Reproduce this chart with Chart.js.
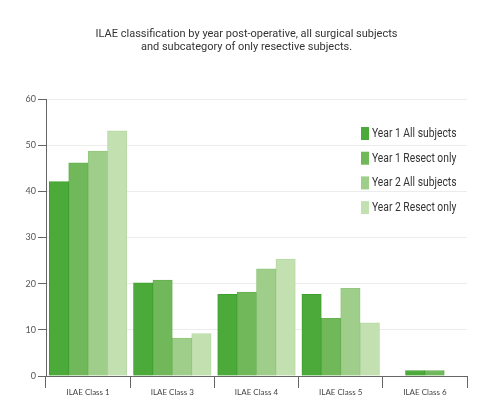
<!DOCTYPE html>
<html>
<head>
<meta charset="utf-8">
<script src="https://cdn.jsdelivr.net/npm/chart.js@4"></script>
<style>
    html, body { margin: 0; padding: 0; background: #fff; }
    #caja { width: 500px; height: 417px; }
</style>
</head>
<body>
<div id="caja"><canvas id="grafica"></canvas></div>
<script>
//--------Datos
const categorias = ["ILAE Class 1", "ILAE Class 3", "ILAE Class 4", "ILAE Class 5", "ILAE Class 6"]
const year1Todos = [42.1, 20.2, 17.7, 17.7, 1.2]
const year1Reseccion = [46.2, 20.8, 18.2, 12.5, 1.2]
const year2Todos = [48.7, 8.2, 23.2, 19.0, null]
const year2Reseccion = [53.1, 9.2, 25.3, 11.5, null]
const nombresSeries = ["Year 1 All subjects", "Year 1 Resect only", "Year 2 All subjects", "Year 2 Resect only"]
const ticksY = [0, 10, 20, 30, 40, 50, 60]
const titulo = ["ILAE classification by year post-operative, all surgical subjects", "and subcategory of only resective subjects."]

const colores = ["#4caa3b", "#71b85b", "#9ece89", "#c2e0b0"]
const bordes = ["#40a02f", "#66b050", "#93c77d", "#b7d9a4"]

//--------Titulo propio (centrado en la pagina, no en el area)
const tituloArriba = {
    id: "tituloArriba",
    afterDraw(chart) {
        const ctx = chart.ctx
        ctx.save()
        ctx.font = "11px Roboto, sans-serif"
        ctx.fillStyle = "#333"
        ctx.textAlign = "center"
        ctx.textBaseline = "middle"
        titulo.forEach((linea, i) => ctx.fillText(linea, 246.5, 34.5 + i * 13.2))
        ctx.restore()
    }
}

//--------Leyenda propia (encima del area del grafico)
const leyendaDerecha = {
    id: "leyendaDerecha",
    afterDatasetsDraw(chart) {
        const ctx = chart.ctx
        const area = chart.chartArea
        const x = area.right - 106
        let y = area.top + 28
        ctx.save()
        ctx.font = "12px Roboto, sans-serif"
        ctx.textBaseline = "middle"
        chart.data.datasets.forEach((serie) => {
            ctx.fillStyle = serie.backgroundColor
            ctx.fillRect(x, y, 8, 13)
            ctx.fillStyle = "#333"
            //texto algo estrecho, como en el original
            ctx.save()
            ctx.translate(x + 11, y + 7)
            ctx.scale(0.86, 1)
            ctx.fillText(serie.label, 0, 0)
            ctx.restore()
            y += 24.7
        })
        ctx.restore()
    }
}

const series = [year1Todos, year1Reseccion, year2Todos, year2Reseccion]

window.onload = () => {
    const canvaGrafica = document.getElementById("grafica")

    new Chart(canvaGrafica, {
        type: "bar",
        data: {
            labels: categorias,
            datasets: series.map((valores, i) => ({
                label: nombresSeries[i],
                data: valores,
                backgroundColor: colores[i],
                borderColor: bordes[i],
                borderWidth: 1,
                barThickness: 19.4,
                skipNull: true
            }))
        },
        options: {
            responsive: true,
            maintainAspectRatio: false,
            animation: false,
            layout: { padding: { left: 0, right: 33, top: 99, bottom: 0 } },
            plugins: {
                legend: { display: false },
                tooltip: { enabled: false },
                title: { display: false }
            },
            scales: {
                x: {
                    grid: { offset: true, drawOnChartArea: false, tickLength: 12, tickColor: "#666" },
                    border: { color: "#666", width: 1 },
                    ticks: { color: "#444", padding: 0, font: { family: "Lato, sans-serif", size: 8 } },
                    afterFit: (escala) => { escala.height = 41 }
                },
                y: {
                    min: 0,
                    max: 60,
                    afterBuildTicks: (escala) => { escala.ticks = ticksY.map(v => ({ value: v })) },
                    grid: { color: "#ececec", tickColor: "#666", tickLength: 8 },
                    border: { color: "#666", width: 1 },
                    ticks: { color: "#555", padding: 2, font: { family: "Lato, sans-serif", size: 9 } },
                    afterFit: (escala) => { escala.width = 46 }
                }
            }
        },
        plugins: [tituloArriba, leyendaDerecha]
    })
}
</script>
</body>
</html>
